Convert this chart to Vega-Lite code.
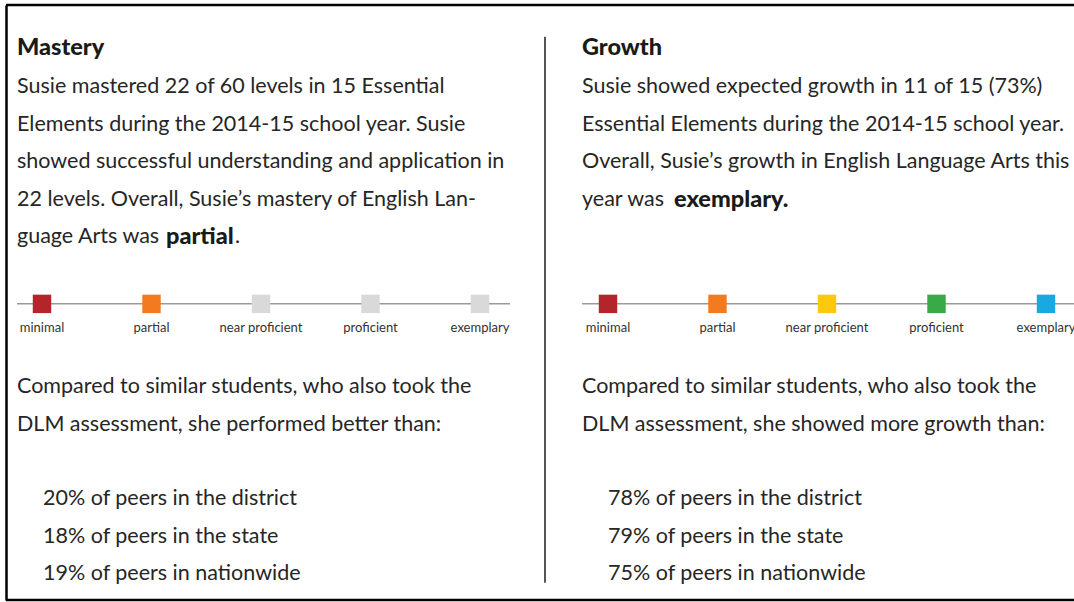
{
  "$schema": "https://vega.github.io/schema/vega-lite/v6.json",
  "width": 1068,
  "height": 595,
  "autosize": {"type": "none"},
  "padding": {"left": 6, "top": 5, "right": 0, "bottom": 2},
  "background": "white",
  "config": {
    "view": {"stroke": null},
    "text": {"font": "Lato"},
    "axisY": {"domain": true, "domainColor": "#000000", "domainWidth": 2.5, "ticks": false, "labels": false, "grid": false, "title": null}
  },
  "datasets": {
    "lines": [
      {"panel": "Mastery", "line": 0, "style": "title", "text": "Mastery"},
      {"panel": "Mastery", "line": 1, "style": "body", "text": "Susie mastered 22 of 60 levels in 15 Essential"},
      {"panel": "Mastery", "line": 2, "style": "body", "text": "Elements during the 2014-15 school year. Susie"},
      {"panel": "Mastery", "line": 3, "style": "body", "text": "showed successful understanding and application in"},
      {"panel": "Mastery", "line": 4, "style": "body", "text": "22 levels. Overall, Susie’s mastery of English Lan-"},
      {"panel": "Mastery", "line": 5, "style": "body", "text": "guage Arts was"},
      {"panel": "Mastery", "line": 5, "style": "emph", "text": "partial"},
      {"panel": "Mastery", "line": 5, "style": "tail", "text": "."},
      {"panel": "Mastery", "line": 9, "style": "body", "text": "Compared to similar students, who also took the"},
      {"panel": "Mastery", "line": 10, "style": "body", "text": "DLM assessment, she performed better than:"},
      {"panel": "Mastery", "line": 12, "style": "peer", "text": "20% of peers in the district"},
      {"panel": "Mastery", "line": 13, "style": "peer", "text": "18% of peers in the state"},
      {"panel": "Mastery", "line": 14, "style": "peer", "text": "19% of peers in nationwide"},
      {"panel": "Growth", "line": 0, "style": "title", "text": "Growth"},
      {"panel": "Growth", "line": 1, "style": "body", "text": "Susie showed expected growth in 11 of 15 (73%)"},
      {"panel": "Growth", "line": 2, "style": "body", "text": "Essential Elements during the 2014-15 school year."},
      {"panel": "Growth", "line": 3, "style": "body", "text": "Overall, Susie’s growth in English Language Arts this"},
      {"panel": "Growth", "line": 4, "style": "body", "text": "year was"},
      {"panel": "Growth", "line": 4, "style": "emph", "text": "exemplary."},
      {"panel": "Growth", "line": 9, "style": "body", "text": "Compared to similar students, who also took the"},
      {"panel": "Growth", "line": 10, "style": "body", "text": "DLM assessment, she showed more growth than:"},
      {"panel": "Growth", "line": 12, "style": "peer", "text": "78% of peers in the district"},
      {"panel": "Growth", "line": 13, "style": "peer", "text": "79% of peers in the state"},
      {"panel": "Growth", "line": 14, "style": "peer", "text": "75% of peers in nationwide"}
    ],
    "levels": [
      {"panel": "Mastery", "level": "minimal", "achieved": true},
      {"panel": "Mastery", "level": "partial", "achieved": true},
      {"panel": "Mastery", "level": "near proficient", "achieved": false},
      {"panel": "Mastery", "level": "proficient", "achieved": false},
      {"panel": "Mastery", "level": "exemplary", "achieved": false},
      {"panel": "Growth", "level": "minimal", "achieved": true},
      {"panel": "Growth", "level": "partial", "achieved": true},
      {"panel": "Growth", "level": "near proficient", "achieved": true},
      {"panel": "Growth", "level": "proficient", "achieved": true},
      {"panel": "Growth", "level": "exemplary", "achieved": true}
    ]
  },
  "resolve": {"scale": {"x": "independent"}},
  "layer": [
    {
      "data": {"name": "lines"},
      "encoding": {
        "x": {"field": "panel", "type": "nominal", "scale": {"type": "point", "domain": ["Mastery", "Growth"], "range": [11, 576], "padding": 0}, "axis": null},
        "y": {"field": "line", "type": "quantitative", "scale": {"domain": [-1.12, 14.74667], "reverse": true, "nice": false, "zero": false}, "title": null},
        "text": {"field": "text"}
      },
      "layer": [
        {
          "transform": [{"filter": "datum.style == 'title' && datum.panel == 'Mastery'"}],
          "mark": {"type": "rule", "color": "#000000", "strokeWidth": 2.5},
          "encoding": {
            "x": null,
            "y": {"datum": -1.12, "type": "quantitative", "title": null},
            "text": null
          }
        },
        {
          "transform": [{"filter": "datum.style == 'title' && datum.panel == 'Mastery'"}],
          "mark": {"type": "rule", "color": "#000000", "strokeWidth": 2.5},
          "encoding": {
            "x": null,
            "y": {"datum": 14.74667, "type": "quantitative", "title": null},
            "text": null
          }
        },
        {
          "transform": [{"filter": "datum.style == 'title' && datum.panel == 'Growth'"}],
          "mark": {"type": "rule", "xOffset": -37, "color": "#555555", "strokeWidth": 2},
          "encoding": {
            "y": {"datum": -0.27, "type": "quantitative", "title": null},
            "y2": {"datum": 14.29},
            "text": null
          }
        },
        {
          "transform": [{"filter": "datum.style == 'title'"}],
          "mark": {"type": "text", "align": "left", "baseline": "middle", "fontSize": 23.5, "fontWeight": 900, "fill": "#1a1a1a", "dy": 1.5}
        },
        {
          "transform": [{"filter": "datum.style == 'body'"}],
          "mark": {"type": "text", "align": "left", "baseline": "middle", "fontSize": 21.5, "fill": "#262626", "dy": 3}
        },
        {
          "transform": [{"filter": "datum.style == 'peer'"}],
          "mark": {"type": "text", "align": "left", "baseline": "middle", "fontSize": 21.5, "fill": "#262626", "dx": 26, "dy": 2.5}
        },
        {
          "transform": [{"filter": "datum.style == 'emph' && datum.panel == 'Mastery'"}],
          "mark": {"type": "text", "align": "left", "baseline": "middle", "fontSize": 23.5, "fontWeight": 900, "fill": "#1a1a1a", "dx": 149, "dy": 3}
        },
        {
          "transform": [{"filter": "datum.style == 'tail' && datum.panel == 'Mastery'"}],
          "mark": {"type": "text", "align": "left", "baseline": "middle", "fontSize": 21.5, "fill": "#262626", "dx": 218, "dy": 3}
        },
        {
          "transform": [{"filter": "datum.style == 'emph' && datum.panel == 'Growth'"}],
          "mark": {"type": "text", "align": "left", "baseline": "middle", "fontSize": 23.5, "fontWeight": 900, "fill": "#1a1a1a", "dx": 92, "dy": 3}
        }
      ]
    },
    {
      "data": {"name": "levels"},
      "transform": [{"filter": "datum.panel == 'Mastery'"}],
      "encoding": {
        "x": {"field": "level", "type": "ordinal", "scale": {"type": "point", "domain": ["minimal", "partial", "near proficient", "proficient", "exemplary"], "range": [36, 474], "padding": 0}, "axis": null}
      },
      "layer": [
        {
          "transform": [{"filter": "datum.level == 'minimal'"}],
          "mark": {"type": "rule", "xOffset": -25, "x2Offset": 30, "color": "#9a9a9a", "strokeWidth": 1.5},
          "encoding": {
            "x": {"datum": "minimal", "type": "ordinal", "scale": {"type": "point", "domain": ["minimal", "partial", "near proficient", "proficient", "exemplary"], "range": [36, 474], "padding": 0}, "axis": null},
            "x2": {"datum": "exemplary"},
            "y": {"datum": 6.85, "type": "quantitative", "title": null}
          }
        },
        {
          "mark": {"type": "square", "size": 340, "opacity": 1},
          "encoding": {
            "y": {"datum": 6.85, "type": "quantitative", "title": null},
            "color": {
              "condition": {"test": "datum.achieved", "field": "level", "type": "nominal", "scale": {"domain": ["minimal", "partial", "near proficient", "proficient", "exemplary"], "range": ["#b3242b", "#f47a20", "#fdc80f", "#3aa948", "#18a8e2"]}, "legend": null},
              "value": "#d9d9d9"
            }
          }
        },
        {
          "mark": {"type": "text", "align": "center", "baseline": "middle", "fontSize": 13, "fill": "#333333"},
          "encoding": {
            "y": {"datum": 7.5, "type": "quantitative", "title": null},
            "text": {"field": "level"}
          }
        }
      ]
    },
    {
      "data": {"name": "levels"},
      "transform": [{"filter": "datum.panel == 'Growth'"}],
      "encoding": {
        "x": {"field": "level", "type": "ordinal", "scale": {"type": "point", "domain": ["minimal", "partial", "near proficient", "proficient", "exemplary"], "range": [602, 1040], "padding": 0}, "axis": null}
      },
      "layer": [
        {
          "transform": [{"filter": "datum.level == 'minimal'"}],
          "mark": {"type": "rule", "xOffset": -26, "x2Offset": 40, "color": "#9a9a9a", "strokeWidth": 1.5},
          "encoding": {
            "x": {"datum": "minimal", "type": "ordinal", "scale": {"type": "point", "domain": ["minimal", "partial", "near proficient", "proficient", "exemplary"], "range": [602, 1040], "padding": 0}, "axis": null},
            "x2": {"datum": "exemplary"},
            "y": {"datum": 6.85, "type": "quantitative", "title": null}
          }
        },
        {
          "mark": {"type": "square", "size": 340, "opacity": 1},
          "encoding": {
            "y": {"datum": 6.85, "type": "quantitative", "title": null},
            "color": {
              "condition": {"test": "datum.achieved", "field": "level", "type": "nominal", "scale": {"domain": ["minimal", "partial", "near proficient", "proficient", "exemplary"], "range": ["#b3242b", "#f47a20", "#fdc80f", "#3aa948", "#18a8e2"]}, "legend": null},
              "value": "#d9d9d9"
            }
          }
        },
        {
          "mark": {"type": "text", "align": "center", "baseline": "middle", "fontSize": 13, "fill": "#333333"},
          "encoding": {
            "y": {"datum": 7.5, "type": "quantitative", "title": null},
            "text": {"field": "level"}
          }
        }
      ]
    }
  ]
}
